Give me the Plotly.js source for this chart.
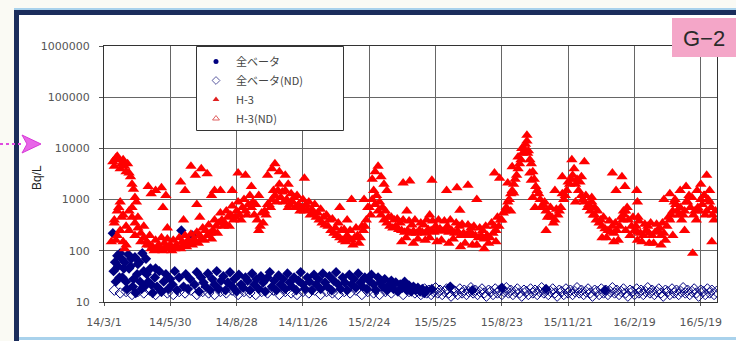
<!DOCTYPE html>
<html><head><meta charset="utf-8">
<script src="https://cdn.plot.ly/plotly-3.0.1.min.js"></script>
<style>html,body{margin:0;padding:0;background:#fff}#c{width:736px;height:341px}</style>
</head><body><div id="c"></div>
<script>
// ---- data (day offsets from 2014-03-01, Bq/L) ----
const xTickDays = [0,90,180,270,360,450,540,630,720,810];
const xTickText = ["14/3/1","14/5/30","14/8/28","14/11/26","15/2/24","15/5/25","15/8/23","15/11/21","16/2/19","16/5/19"];
const yTickVals = [10,100,1000,10000,100000,1000000];
const yTickText = ["10","100","1000","10000","100000","1000000"];
const seriesNames = ["全ベータ","全ベータ(ND)","H-3","H-3(ND)"];

const h3Band = [[10,150],[14,400],[18,600],[22,250],[26,150],[30,130],[34,600],[38,450],[42,350],[46,280],[50,220],[54,180],[58,150],[62,130],[64,110],[68,100],[72,105],[76,110],[80,100],[84,120],[88,110],[92,100],[96,110],[100,120],[104,110],[108,130],[112,120],[116,140],[120,130],[124,150],[128,140],[132,170],[136,160],[140,200],[144,220],[148,250],[152,300],[156,350],[160,400],[164,350],[168,450],[172,500],[176,400],[180,600],[184,500],[188,700],[192,600],[196,800],[200,700],[204,500],[208,400],[212,300],[216,350],[220,500],[224,800],[228,1000],[232,1200],[236,1500],[240,1100],[244,900],[248,1000],[252,800],[256,900],[260,700],[264,800],[268,700],[272,600],[276,650],[280,500],[284,550],[288,450],[292,400],[296,350],[300,320],[304,300],[308,250],[312,220],[316,200],[320,180],[324,160],[328,150],[332,170],[336,160],[340,180],[344,200],[348,180],[352,250],[356,400],[360,700],[364,1000],[368,800],[372,600],[376,500],[380,400],[384,350],[388,300],[392,280],[396,300],[400,260],[404,250],[408,230],[412,250],[416,220],[420,240],[424,220],[428,250],[432,230],[436,220],[440,260],[444,250],[448,230],[452,250],[456,270],[460,240],[464,260],[468,230],[472,250],[476,220],[480,240],[484,200],[488,220],[492,200],[496,230],[500,210],[504,200],[508,180],[512,200],[516,170],[520,200],[524,180],[528,220],[532,250],[536,300],[540,400],[544,600],[548,900],[552,1300],[556,2000],[560,3000],[564,5000],[568,8000],[572,12000],[576,9000],[580,5000],[584,2500],[588,1500],[592,1000],[596,800],[600,600],[604,500],[608,450],[612,400],[616,500],[620,700],[624,1000],[628,1500],[632,2000],[636,3000],[640,2000],[644,1500],[648,1200],[652,900],[656,700],[660,600],[664,500],[668,400],[672,350],[676,300],[680,270],[684,250],[688,230],[692,220],[696,250],[700,300],[704,400],[708,600],[712,400],[716,300],[720,250],[724,230],[728,220],[732,200],[736,250],[740,220],[744,200],[748,230],[752,250],[756,200],[760,220],[764,300],[768,400],[772,600],[776,800],[780,500],[784,400],[788,600],[792,900],[796,700],[800,500],[804,400],[808,600],[812,800],[816,500],[820,1000],[824,700],[828,400]];

const h3Band2 = [[18,200],[26,500],[34,250],[42,200],[50,150],[58,130],[66,120],[74,130],[82,140],[90,130],[98,130],[106,150],[114,160],[122,170],[130,200],[138,250],[146,170],[154,220],[162,300],[170,300],[178,450],[186,400],[194,500],[202,900],[210,250],[218,600],[226,700],[234,900],[242,1400],[250,700],[258,1100],[266,600],[274,800],[282,650],[290,550],[298,450],[306,400],[314,280],[322,250],[330,200],[338,130],[346,140],[354,300],[362,500],[370,1200],[378,700],[386,450],[394,400],[402,350],[410,180],[418,320],[426,170],[434,320],[442,180],[450,300],[458,160],[466,300],[474,170],[482,300],[490,140],[498,280],[506,130],[514,250],[522,140],[530,300],[538,400],[546,700],[554,1500],[562,4000],[570,10000],[578,6000],[586,1800],[594,700],[602,450],[610,350],[618,600],[626,1200],[634,2500],[642,2500],[650,1000],[658,800],[666,500],[674,400],[682,180],[690,300],[698,160],[706,500],[714,200],[722,300],[730,150],[738,300],[746,140],[754,280],[762,160],[770,500],[778,600],[786,500],[794,1200],[802,600],[810,1000],[818,600],[826,500]];

const h3Band3 = [[14,350],[22,900],[30,300],[38,700],[46,450],[54,300],[62,200],[70,160],[78,180],[86,170],[94,160],[102,180],[110,200],[118,210],[126,230],[134,280],[142,320],[150,400],[158,550],[166,600],[174,750],[182,900],[190,1000],[198,1200],[206,800],[214,550],[222,800],[230,1500],[238,2000],[246,1500],[254,1300],[262,1200],[270,1000],[278,900],[286,800],[294,650],[302,500],[310,420],[318,350],[326,260],[334,250],[342,280],[350,300],[358,700],[366,1500],[374,900],[382,600],[390,450],[398,420],[406,400],[414,380],[422,400],[430,350],[438,400],[446,380],[454,400],[462,380],[470,400],[478,350],[486,330],[494,320],[502,300],[510,280],[518,300],[526,350],[534,450],[542,550],[550,1000],[558,2500],[566,6000],[574,14000],[582,3500],[590,1300],[598,900],[606,700],[614,650],[622,1300],[630,2200],[638,4000],[646,2200],[654,1200],[662,900],[670,600],[678,450],[686,380],[694,350],[702,450],[710,700],[718,450],[726,380],[734,330],[742,350],[750,330],[758,350],[766,450],[774,900],[782,700],[790,900],[798,1100],[806,700],[814,1200],[822,900],[830,600]];

const h3Low = [[404,150],[420,140],[436,160],[452,150],[468,140],[484,120],[500,130],[516,110],[532,150],[600,250],[640,900],[676,180],[692,150],[708,250],[724,160],[740,140],[756,130],[772,200],[788,250]];

const h3High = [[12,5500],[14,4500],[16,6500],[18,7000],[20,6000],[22,4000],[24,5000],[26,6000],[28,4500],[30,3500],[32,5000],[34,3300],[36,2800],[38,2000],[40,1600],[42,1100],[44,900],[20,700],[24,450],[16,160],[28,110],[60,1800],[64,1300],[70,1500],[78,1700],[80,700],[84,1200],[86,280],[104,2200],[108,400],[110,1500],[118,4500],[124,3000],[126,800],[130,450],[132,4000],[140,3200],[146,1200],[150,1500],[158,1500],[174,1500],[182,3300],[192,3000],[200,1800],[210,1200],[222,3000],[228,4000],[232,5000],[238,3500],[246,3000],[250,2000],[272,2600],[320,700],[330,400],[336,1000],[353,1000],[364,2500],[368,3500],[372,4500],[376,2800],[380,2000],[384,1500],[406,2100],[411,600],[415,2300],[442,500],[445,2400],[465,1500],[479,1700],[483,620],[494,1900],[506,1000],[530,3300],[537,2600],[548,2100],[552,600],[556,1350],[554,4400],[562,6800],[567,10000],[574,18000],[575,8000],[578,3300],[580,2400],[582,1100],[585,700],[612,1500],[622,2800],[635,6000],[648,2800],[652,5500],[662,1100],[666,700],[690,3300],[695,1500],[703,2800],[705,600],[707,1800],[723,1500],[724,900],[725,450],[760,1000],[768,1300],[775,1000],[782,1500],[790,1800],[795,1100],[799,90],[805,1500],[810,2000],[815,1200],[818,3000],[822,1500],[825,150]];

const beta = [[12,220],[15,60],[18,80],[21,30],[24,70],[27,45],[30,25],[33,85],[36,50],[39,20],[42,75],[45,35],[48,60],[51,18],[54,40],[57,70],[60,25],[63,45],[66,15],[69,30],[72,20],[75,40],[78,16],[81,25],[84,35],[87,18],[90,28],[93,22],[96,40],[99,17],[102,30],[105,250],[108,20],[111,35],[114,18],[117,28],[120,200],[123,22],[126,38],[129,16],[132,30],[135,24],[138,20],[141,36],[144,17],[147,28],[150,22],[153,40],[156,18],[159,26],[162,32],[165,17],[168,24],[171,38],[174,20],[177,28],[180,16],[183,34],[186,22],[189,19],[192,30],[195,26],[198,17],[201,36],[204,22],[207,28],[210,18],[213,32],[216,24],[219,16],[222,30],[225,38],[228,20],[231,26],[234,17],[237,33],[240,22],[243,28],[246,18],[249,36],[252,24],[255,20],[258,30],[261,17],[264,26],[267,38],[270,22],[273,18],[276,30],[279,25],[282,17],[285,34],[288,22],[291,28],[294,18],[297,36],[300,24],[303,20],[306,32],[309,17],[312,26],[315,38],[318,22],[321,18],[324,30],[327,24],[330,17],[333,34],[336,22],[339,28],[342,19],[345,36],[348,24],[351,20],[354,30],[357,18],[360,26],[363,34],[366,22],[369,17],[372,30],[375,24],[378,20],[381,28],[384,17],[387,22],[390,26],[393,18],[396,24],[399,16],[402,22],[405,19],[408,25],[411,17],[414,21],[417,16],[420,20],[423,17],[426,19],[429,16],[432,18],[435,15],[438,17]];

const betaExtra = [[13,40],[16,25],[19,50],[22,90],[25,30],[28,60],[31,18],[34,45],[37,70],[40,28],[43,15],[46,55],[49,25],[52,90],[55,20],[58,35],[64,22],[70,45],[445,18],[470,20],[500,17],[540,19],[600,18],[680,17]];

const betaND = [[14,17],[22,15],[30,16],[38,14],[46,16],[54,15],[62,17],[70,14],[78,16],[86,15],[94,14],[102,16],[110,15],[118,17],[126,14],[134,16],[142,15],[150,14],[158,16],[166,15],[174,17],[182,14],[190,16],[198,15],[206,14],[214,16],[222,15],[230,17],[238,14],[246,16],[254,15],[262,14],[270,16],[278,15],[286,17],[294,14],[302,16],[310,15],[318,14],[326,16],[334,15],[342,17],[350,14],[358,16],[366,15],[374,14],[382,16],[390,15],[398,17],[406,14],[414,16],[422,15],[430,14],
[432,16],[435,18],[438,15],[441,17],[444,14],[447,16],[450,19],[453,15],[456,17],[459,14],[462,16],[465,18],[468,15],[471,13],[474,17],[477,16],[480,14],[483,18],[486,15],[489,17],[492,14],[495,16],[498,19],[501,15],[504,17],[507,14],[510,16],[513,18],[516,15],[519,13],[522,17],[525,16],[528,14],[531,18],[534,15],[537,17],[540,14],[543,16],[546,19],[549,15],[552,17],[555,14],[558,16],[561,18],[564,15],[567,13],[570,17],[573,16],[576,14],[579,18],[582,15],[585,17],[588,14],[591,16],[594,19],[597,15],[600,17],[603,14],[606,16],[609,18],[612,15],[615,13],[618,17],[621,16],[624,14],[627,18],[630,15],[633,17],[636,14],[639,16],[642,19],[645,15],[648,17],[651,14],[654,16],[657,18],[660,15],[663,13],[666,17],[669,16],[672,14],[675,18],[678,15],[681,17],[684,14],[687,16],[690,19],[693,15],[696,17],[699,14],[702,16],[705,18],[708,15],[711,13],[714,17],[717,16],[720,14],[723,18],[726,15],[729,17],[732,14],[735,16],[738,19],[741,15],[744,17],[747,14],[750,16],[753,18],[756,15],[759,13],[762,17],[765,16],[768,14],[771,18],[774,15],[777,17],[780,14],[783,16],[786,19],[789,15],[792,17],[795,14],[798,16],[801,18],[804,15],[807,13],[810,17],[813,16],[816,14],[819,18],[822,15],[825,17],[828,14],[831,16]];

const h3ND = [];

// ---- helpers ----
const BASE = Date.UTC(2014, 2, 1);
function dayToDate(d){ return new Date(BASE + d*86400000).toISOString().slice(0,10); }
function xs(arr){ return arr.map(p => dayToDate(p[0])); }
function ys(arr){ return arr.map(p => p[1]); }
// pixel -> paper coordinates (plot area: x 104..717, y 46..302)
const PL=104, PR=717, PT=46, PB=302;
function px(x){ return (x-PL)/(PR-PL); }
function py(y){ return (PB-y)/(PB-PT); }

const betaAll = beta.concat(betaExtra);
const h3All = h3Band.concat(h3Band2, h3Band3, h3Low, h3High);

const navy = '#000080', red = '#ff0000';
const traces = [
  {name: seriesNames[0], legendgroup:'a', showlegend:false, type:'scatter', mode:'markers', x: xs(betaAll), y: ys(betaAll),
   marker:{symbol:'diamond', size:8, color:navy}},
  {name: seriesNames[1], legendgroup:'b', showlegend:false, type:'scatter', mode:'markers', x: xs(betaND), y: ys(betaND),
   marker:{symbol:'diamond-open', size:8, color:navy, line:{width:1, color:navy}}},
  {name: seriesNames[2], legendgroup:'c', showlegend:false, type:'scatter', mode:'markers', x: xs(h3All), y: ys(h3All),
   marker:{symbol:'triangle-up', size:10, color:red}},
  {name: seriesNames[3], legendgroup:'d', showlegend:false, type:'scatter', mode:'markers', x: xs(h3ND), y: ys(h3ND),
   marker:{symbol:'triangle-up-open', size:8, color:red, line:{width:1,color:red}}},
  // legend entries (small symbols, no data)
  {name: seriesNames[0], legendgroup:'a', type:'scatter', mode:'markers', x:[null], y:[null], marker:{symbol:'circle', size:5, color:navy}},
  {name: seriesNames[1], legendgroup:'b', type:'scatter', mode:'markers', x:[null], y:[null], marker:{symbol:'diamond-open', size:6, color:'#5a5aa0', line:{width:1}}},
  {name: seriesNames[2], legendgroup:'c', type:'scatter', mode:'markers', x:[null], y:[null], marker:{symbol:'triangle-up', size:6, color:'#e02020'}},
  {name: seriesNames[3], legendgroup:'d', type:'scatter', mode:'markers', x:[null], y:[null], marker:{symbol:'triangle-up-open', size:6, color:'#e06060', line:{width:1}}}
];

const tickFont = {family:'DejaVu Sans', size:11, color:'#555'};
const layout = {
  width:736, height:341,
  margin:{l:PL, r:736-PR, t:PT, b:341-PB},
  paper_bgcolor:'#ffffff', plot_bgcolor:'#ffffff',
  showlegend:true,
  xaxis:{type:'date', range:[dayToDate(0), dayToDate(832)],
    tickvals: xTickDays.map(dayToDate), ticktext: xTickText,
    tickfont: tickFont, ticks:'outside', ticklen:3, tickcolor:'#555', ticklabelstandoff:7,
    showgrid:true, gridcolor:'#666', gridwidth:1,
    showline:true, linecolor:'#333', linewidth:1, mirror:true, zeroline:false},
  yaxis:{type:'log', range:[1,6], tickvals:yTickVals, ticktext:yTickText,
    tickfont: tickFont, ticks:'outside', ticklen:4, tickcolor:'#555', ticklabelstandoff:7,
    showgrid:true, gridcolor:'#666', gridwidth:1,
    showline:true, linecolor:'#333', linewidth:1, mirror:true, zeroline:false},
  legend:{x:px(196), y:py(47), xanchor:'left', yanchor:'top',
    bgcolor:'rgba(0,0,0,0)', borderwidth:0,
    font:{family:'Noto Sans CJK JP', size:11, color:'#444'},
    indentation:0, tracegroupgap:0},
  shapes:[
    {type:'rect', xref:'paper', yref:'paper', x0:px(-5), x1:px(745), y0:py(-5), y1:py(9), fillcolor:'#fafaf4', line:{width:0}, layer:'below'},
    {type:'rect', xref:'paper', yref:'paper', x0:px(-5), x1:px(14), y0:py(-5), y1:py(350), fillcolor:'#fafaf4', line:{width:0}, layer:'below'},
    {type:'line', xref:'paper', yref:'paper', x0:px(14), x1:px(745), y0:py(9), y1:py(9), line:{color:'#a9d2ec', width:2}},
    {type:'path', xref:'paper', yref:'paper',
     path:`M ${px(16.5)} ${py(345)} L ${px(16.5)} ${py(12.5)} L ${px(745)} ${py(12.5)}`,
     line:{color:'#1b2d5c', width:5}},
    {type:'line', xref:'paper', yref:'paper', x0:px(19), x1:px(745), y0:py(338.5), y1:py(338.5), line:{color:'#a9d2ec', width:3}},
    {type:'rect', xref:'paper', yref:'paper', x0:px(196.5), x1:px(343.5), y0:py(46.5), y1:py(130.5), fillcolor:'#ffffff', line:{color:'#333', width:1}},
    {type:'rect', xref:'paper', yref:'paper', x0:px(672), x1:px(740), y0:py(57), y1:py(18), fillcolor:'#f4a6c8', line:{width:0}},
    {type:'line', xref:'paper', yref:'paper', x0:px(0), x1:px(22), y0:py(144), y1:py(144), line:{color:'#e04ae0', width:2, dash:'dot'}},
    {type:'path', xref:'paper', yref:'paper',
     path:`M ${px(22)} ${py(135)} L ${px(41)} ${py(144)} L ${px(22)} ${py(153)} L ${px(27)} ${py(144)} Z`,
     fillcolor:'#e866e8', line:{color:'#d83ad8', width:1}}
  ],
  annotations:[
    {xref:'paper', yref:'paper', x:px(704), y:py(38), text:'G\u22122', showarrow:false,
     font:{family:'Liberation Sans', size:22, color:'#2a2a2a'}, xanchor:'center', yanchor:'middle'},
    {xref:'paper', yref:'paper', x:px(37), y:py(178), text:'Bq/L', showarrow:false, textangle:-90,
     font:{family:'Liberation Sans', size:12, color:'#222'}, xanchor:'center', yanchor:'middle'}
  ]
};
Plotly.newPlot('c', traces, layout, {staticPlot:true, displayModeBar:false});
</script></body></html>
